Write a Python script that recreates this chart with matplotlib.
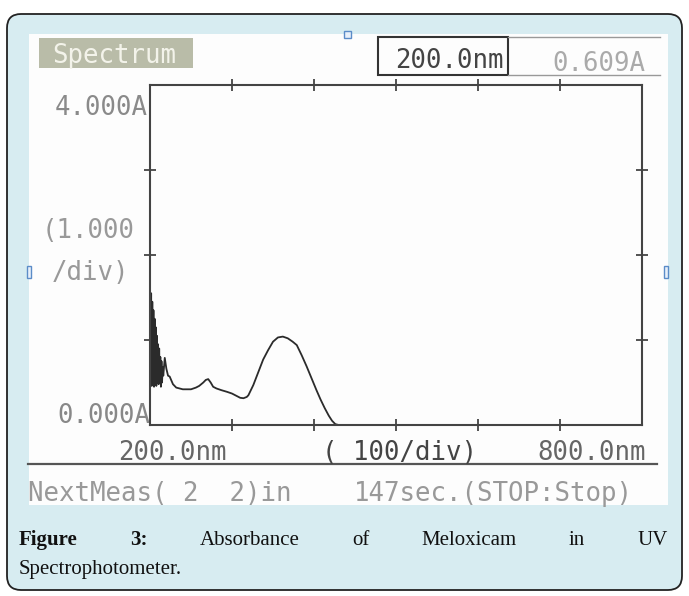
import matplotlib
matplotlib.use("Agg")
import matplotlib.pyplot as plt
from matplotlib.patches import FancyBboxPatch, Rectangle

# absorbance trace (nm, A)
wavelength = [200, 200.7, 201.4, 202.1, 202.8, 203.5, 204.2, 204.9, 205.6, 206.3,
              207.0, 207.7, 208.4, 209.1, 209.8, 210.5, 211.2, 211.9, 212.6, 213.3,
              214.0, 214.7, 215.4, 216.2, 218, 220, 222, 224, 228, 232, 240,
              250, 256, 260, 265, 268, 271, 274, 277, 281, 287, 294, 300, 306,
              310, 314, 318, 320, 326, 332, 338, 344, 350, 356, 362, 368, 374,
              379, 385, 391, 397, 403, 408, 413, 418, 422, 426, 430, 800]
absorbance = [1.68, 0.55, 1.55, 0.46, 1.45, 0.52, 1.35, 0.45, 1.25, 0.5,
              1.15, 0.46, 1.05, 0.55, 0.95, 0.48, 0.9, 0.5, 0.8, 0.45,
              0.75, 0.5, 0.68, 0.58, 0.79, 0.66, 0.58, 0.57, 0.48, 0.44, 0.42,
              0.42, 0.44, 0.46, 0.50, 0.53, 0.54, 0.50, 0.45, 0.43, 0.41, 0.39, 0.37, 0.34,
              0.32, 0.315, 0.33, 0.35, 0.47, 0.62, 0.77, 0.88, 0.98, 1.03, 1.04, 1.02, 0.98,
              0.94, 0.82, 0.69, 0.55, 0.41, 0.30, 0.20, 0.11, 0.05, 0.01, 0.0, 0.0]

x_ticks = [300, 400, 500, 600, 700]
y_ticks = [1, 2, 3]

caption_bold = ["Figure", "3:"]
caption_words = ["Absorbance", "of", "Meloxicam", "in", "UV"]
caption_line2 = "Spectrophotometer."

W, H = 689, 596
fig = plt.figure(figsize=(W / 100, H / 100), dpi=100)
fig.patch.set_facecolor("white")

# pixel overlay for the frame, scan area and printed labels
bg = fig.add_axes([0, 0, 1, 1], zorder=0)
bg.set_xlim(0, W)
bg.set_ylim(H, 0)
bg.axis("off")

bg.add_patch(FancyBboxPatch((7, 14), 675, 576, boxstyle="round,pad=0,rounding_size=14",
                            facecolor="#d7ecf1", edgecolor="#222222", lw=1.3))
bg.add_patch(Rectangle((29, 34), 639, 471, facecolor="#fdfdfd", edgecolor="none"))

# selection handles from the pasted image
for (hx, hy, hw, hh) in [(344, 31, 7, 7), (27, 266, 4, 12), (664, 266, 4, 12)]:
    bg.add_patch(Rectangle((hx, hy), hw, hh, facecolor="#e8f0fa", edgecolor="#5b8cc8", lw=1))

mono = "DejaVu Sans Mono"
fs = 18.5

bg.add_patch(Rectangle((39, 38), 154, 30, facecolor="#b9bca8", edgecolor="none"))
bg.text(52, 63, "Spectrum", family=mono, fontsize=fs, color="#f3f3ea", va="baseline")

bg.add_patch(Rectangle((378, 37), 130, 38, facecolor="none", edgecolor="#333333", lw=1.5))
bg.plot([508, 660], [37, 37], color="#999999", lw=1)
bg.plot([508, 660], [75, 75], color="#999999", lw=1)
bg.text(395, 68, "200.0nm", family=mono, fontsize=fs, color="#444444", va="baseline")
bg.text(552, 71, "0.609A", family=mono, fontsize=fs, color="#aaaaaa", va="baseline")

bg.text(55, 115, "4.000A", family=mono, fontsize=fs, color="#8a8a8a", va="baseline")
bg.text(42, 238, "(1.000", family=mono, fontsize=fs, color="#999999", va="baseline")
bg.text(52, 280, "/div)", family=mono, fontsize=fs, color="#999999", va="baseline")
bg.text(57, 423, "0.000A", family=mono, fontsize=fs, color="#888888", va="baseline")

bg.text(118, 460, "200.0nm", family=mono, fontsize=fs, color="#666666", va="baseline")
bg.text(322, 460, "( 100/div)", family=mono, fontsize=fs, color="#444444", va="baseline")
bg.text(537, 460, "800.0nm", family=mono, fontsize=fs, color="#666666", va="baseline")
bg.plot([28, 657], [464, 464], color="#555555", lw=1.6)
bg.text(28, 501, "NextMeas( 2  2)in", family=mono, fontsize=fs, color="#999999", va="baseline")
bg.text(354, 501, "147sec.(STOP:Stop)", family=mono, fontsize=fs, color="#999999", va="baseline")

# spectrum axes
ax = fig.add_axes([150 / W, 1 - 425 / H, 492 / W, 340 / H], zorder=1)
ax.set_facecolor("none")
ax.plot(wavelength, absorbance, color="#2b2b2b", lw=1.3)
ax.set_xlim(200, 800)
ax.set_ylim(0, 4)
ax.set_xticks(x_ticks)
ax.set_yticks(y_ticks)
ax.tick_params(direction="inout", length=8, width=1.3, color="#444444",
               top=True, right=True, labelbottom=False, labelleft=False)
for sp in ax.spines.values():
    sp.set_color("#444444")
    sp.set_linewidth(1.5)

# justified caption
serif = "Liberation Serif"
cfs = 15
y1, y2 = 545, 574
fig.canvas.draw()
renderer = fig.canvas.get_renderer()
texts = []
for w in caption_bold:
    texts.append(bg.text(0, y1, w, family=serif, fontsize=cfs, weight="bold",
                         color="#111111", va="baseline"))
for w in caption_words:
    texts.append(bg.text(0, y1, w, family=serif, fontsize=cfs, color="#111111",
                         va="baseline"))
widths = [t.get_window_extent(renderer).width for t in texts]
left, right = 19, 668
gap = (right - left - sum(widths)) / (len(texts) - 1)
xpos = left
for t, wd in zip(texts, widths):
    t.set_x(xpos)
    xpos += wd + gap
bg.text(left, y2, caption_line2, family=serif, fontsize=cfs, color="#111111", va="baseline")

fig.savefig("out.png", dpi=100)
